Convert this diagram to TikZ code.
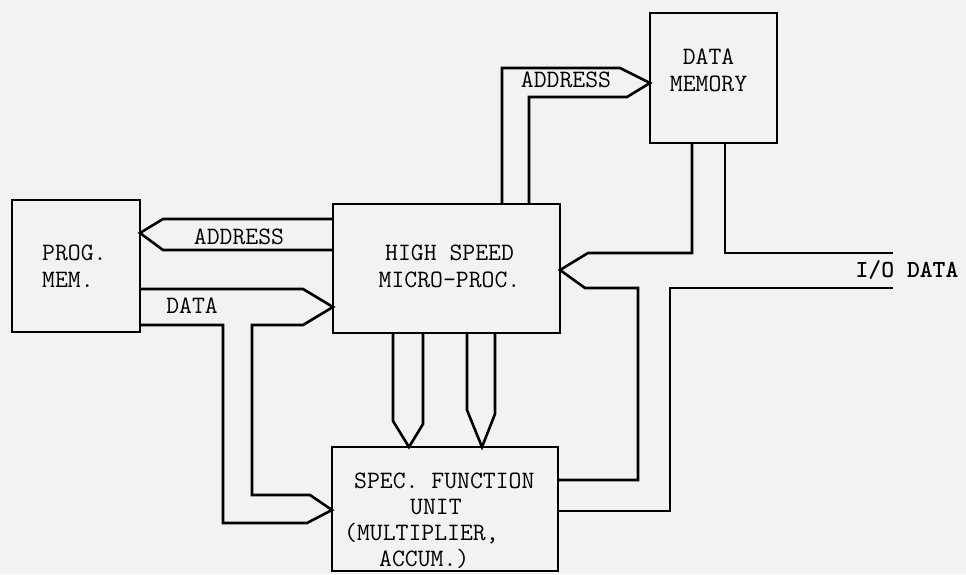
\documentclass[tikz,border=0pt]{standalone}
\begin{document}
\begin{tikzpicture}[x=1pt,y=-1pt,
  box/.style={draw, line width=2.6pt, inner sep=0pt, outer sep=0pt, rectangle},
  bus/.style={draw, line width=2.6pt, line join=miter},
  lbl/.style={font=\ttfamily\fontsize{25}{27}\selectfont, align=center, inner sep=0pt},
  blbl/.style={font=\ttfamily\bfseries\fontsize{24.5}{27}\selectfont, inner sep=0pt}]
\fill[black!5] (0,0) rectangle (966,574);
\useasboundingbox (0,0) rectangle (966,574);
% boxes
\node[box, minimum width=128pt, minimum height=132pt] (pm) at (76,266) {};
\node[box, minimum width=227pt, minimum height=129pt] (mp) at (446.5,268.5) {};
\node[box, minimum width=127pt, minimum height=130pt] (dm) at (713.5,78) {};
\node[box, minimum width=226pt, minimum height=124pt] (sf) at (445,509) {};
% box texts
\node[lbl, align=left, anchor=west] (pmt) at ([xshift=30pt]pm.west) {PROG.\\MEM.};
\node[lbl] (mpt) at ([xshift=3pt,yshift=2pt]mp.center) {HIGH SPEED\\MICRO-PROC.};
\node[lbl] (dmt) at ([xshift=-5pt,yshift=8pt]dm.center) {DATA\\MEMORY};
\node[lbl, align=left, anchor=west, font=\ttfamily\fontsize{25}{26}\selectfont] (sft) at ([xshift=12pt,yshift=-12pt]sf.west)
  {\hspace*{10pt}SPEC. FUNCTION\\\hspace*{66pt}UNIT\\(MULTIPLIER,\\\hspace*{35pt}ACCUM.)};
% address bus: micro-proc -> data memory
\draw[bus] (502,0 |- mp.north) -- (502,68) -- (620,68) -- (dm.west |- 0,83)
  -- (627,97) -- (529,97) -- (529,0 |- mp.north);
\node[lbl] (adr1) at (566,80) {ADDRESS};
% address bus: micro-proc -> prog mem
\draw[bus] (mp.west |- 0,219) -- (163,219) -- (pm.east |- 0,233) -- (163,250) -- (mp.west |- 0,250);
\node[lbl] (adr2) at (239,237) {ADDRESS};
% data bus: prog mem -> micro-proc and spec. function unit
\draw[bus] (pm.east |- 0,289) -- (303,289) -- (mp.west |- 0,307) -- (303,325) -- (252,325)
  -- (252,495) -- (310,495) -- (sf.west |- 0,510) -- (307,523) -- (223,523) -- (223,325)
  -- (pm.east |- 0,325);
\node[lbl] (dat) at (192,306) {DATA};
% buses micro-proc -> spec. function unit
\draw[bus] (393,0 |- mp.south) -- (393,421) -- (409,0 |- sf.north) -- (423,424) -- (423,0 |- mp.south);
\draw[bus] (467,0 |- mp.south) -- (467,410) -- (482,0 |- sf.north) -- (495,414) -- (495,0 |- mp.south);
% I/O data bus
\draw[bus] (692,0 |- dm.south) -- (692,253) -- (588,253) -- (mp.east |- 0,270) -- (585,288)
  -- (638,288) -- (638,480) -- (sf.east |- 0,480);
\draw[bus] (725,0 |- dm.south) -- (725,253) -- (893,253);
\draw[bus] (sf.east |- 0,511) -- (670,511) -- (670,288) -- (893,288);
\node[blbl] (io) at (907,270) {I/O DATA};
\end{tikzpicture}
\end{document}
